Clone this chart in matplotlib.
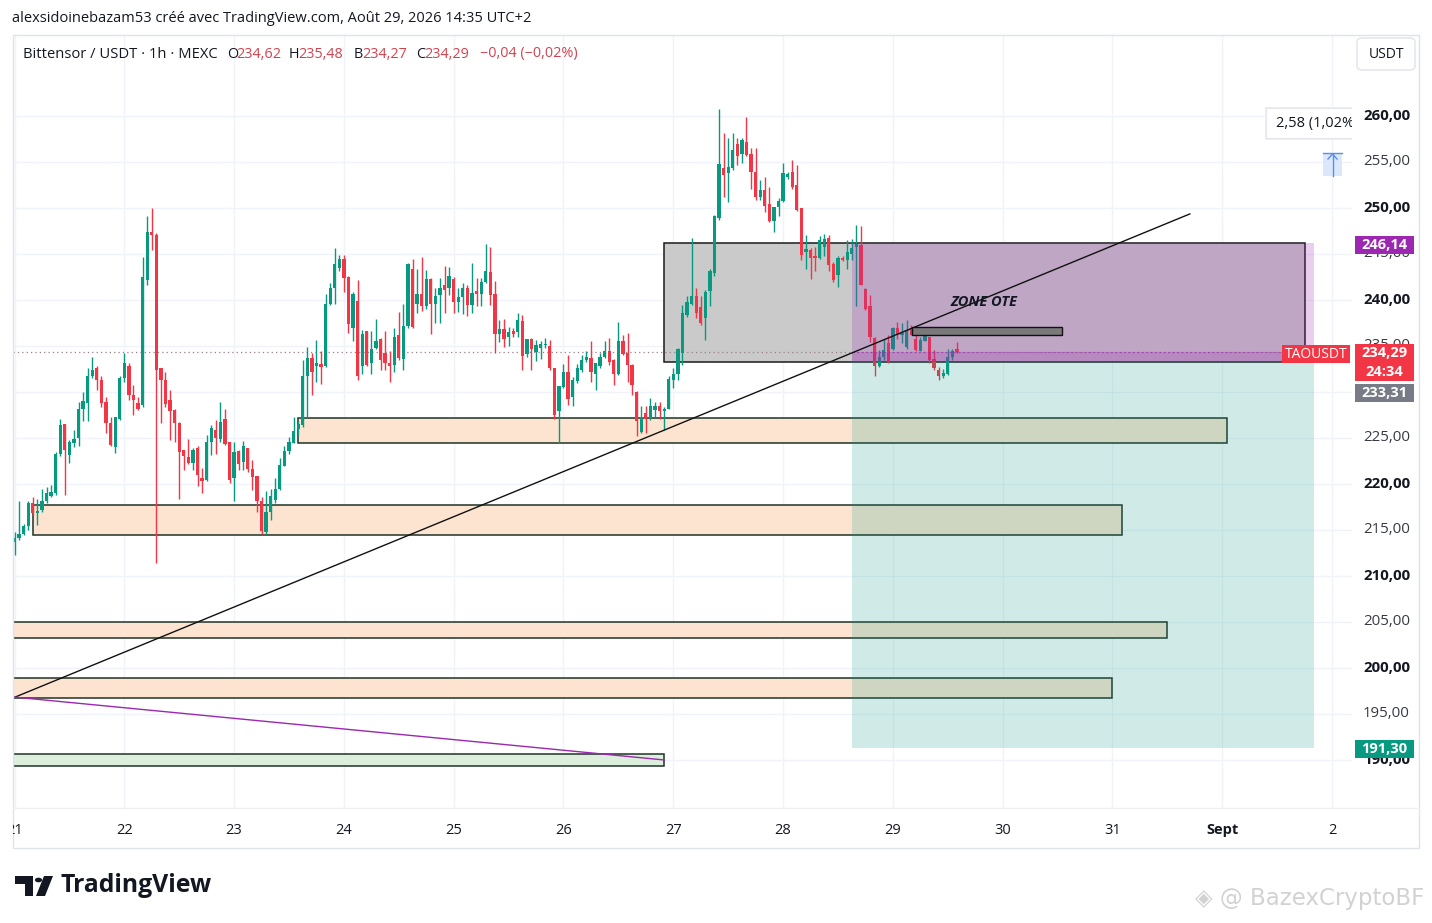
import numpy as np
import matplotlib.pyplot as plt
from matplotlib.patches import Rectangle, FancyBboxPatch, Polygon, Circle
from matplotlib.transforms import blended_transform_factory

# hourly candles from 21 Aug 00:00 (index = hour)
opens = [
    213.7, 214.1, 214.6, 215.4, 217.9, 216.8, 217.2, 218.1, 218.7, 219.0, 223.3, 226.5,
    223.2, 224.4, 225.0, 228.2, 228.8, 231.7, 232.6, 231.3, 228.9, 226.6, 224.0, 227.1,
    231.5, 232.8, 229.7, 228.8, 228.6, 242.2, 247.4, 247.1, 232.6, 231.3, 229.1, 228.0,
    226.6, 223.7, 222.9, 222.3, 223.9, 220.7, 220.4, 224.6, 225.9, 224.9, 227.1, 224.6,
    220.7, 223.6, 222.4, 223.9, 221.6, 220.9, 218.1, 214.8, 217.0, 218.3, 219.4, 222.0,
    223.6, 224.5, 226.0, 226.4, 231.7, 233.7, 232.8, 233.0, 232.8, 239.6, 241.3, 243.5,
    244.4, 242.5, 236.9, 239.9, 232.8, 236.6, 233.1, 234.8, 235.8, 234.2, 233.2, 232.9,
    236.2, 233.6, 237.2, 243.4, 239.6, 240.6, 239.3, 242.3, 239.6, 240.5, 241.6, 241.3,
    242.3, 239.8, 240.3, 241.3, 239.5, 241.0, 240.6, 242.0, 243.0, 240.6, 236.3, 236.8,
    236.0, 236.6, 236.5, 237.7, 234.1, 235.8, 234.3, 234.8, 235.1, 235.0, 232.6, 227.9,
    230.5, 232.2, 229.5, 231.2, 232.4, 233.5, 233.7, 232.0, 232.8, 233.8, 234.4, 233.5,
    231.9, 235.5, 234.2, 232.9, 230.0, 225.7, 227.7, 227.1, 228.0, 228.5, 227.9, 228.2,
    231.3, 231.9, 234.2, 238.4, 239.6, 240.4, 239.2, 238.0, 241.0, 242.9, 248.9, 254.3,
    253.8, 254.3, 257.0, 255.9, 257.2, 255.9, 253.9, 251.2, 251.9, 250.4, 248.6, 250.1,
    250.8, 253.4, 253.9, 252.5, 250.0, 245.2, 245.4, 244.8, 244.6, 245.8, 246.7, 243.9,
    242.7, 244.6, 244.3, 245.0, 245.8, 246.0, 241.2, 239.3, 235.9, 232.8, 233.8, 235.3,
    234.7, 236.9, 236.2, 234.9, 236.9, 235.8, 234.4, 235.5, 236.0, 233.6, 232.4, 231.7,
    232.0, 233.8, 234.62,
]
highs = [
    214.8, 218.1, 215.7, 218.1, 218.6, 218.4, 219.5, 219.7, 219.9, 223.5, 227.1, 226.5,
    224.8, 225.9, 228.9, 230.0, 232.6, 233.8, 232.8, 231.7, 229.5, 227.3, 227.3, 231.7,
    234.2, 233.1, 230.8, 229.5, 244.7, 249.1, 250.0, 247.3, 232.6, 232.2, 230.2, 228.2,
    226.7, 223.7, 224.9, 223.9, 224.1, 221.7, 225.3, 226.4, 227.0, 228.9, 228.2, 224.6,
    224.6, 223.7, 224.7, 223.9, 222.6, 220.9, 218.6, 219.2, 219.4, 220.6, 222.8, 224.1,
    225.1, 227.3, 226.8, 233.5, 234.9, 234.2, 235.7, 234.4, 240.7, 241.8, 245.6, 244.9,
    244.9, 242.6, 240.9, 242.2, 236.7, 236.6, 236.6, 237.9, 235.9, 236.6, 234.4, 236.9,
    238.7, 239.6, 244.0, 244.4, 243.4, 244.7, 243.3, 242.4, 241.3, 242.4, 243.7, 243.6,
    242.5, 241.3, 241.8, 241.6, 244.0, 242.4, 242.4, 246.1, 245.8, 242.1, 237.8, 237.9,
    237.1, 236.9, 238.6, 238.4, 235.8, 235.9, 235.7, 235.5, 235.9, 235.7, 232.6, 230.6,
    233.0, 234.0, 231.6, 233.0, 234.0, 234.4, 235.5, 233.2, 234.2, 235.5, 235.9, 233.6,
    237.6, 236.2, 236.4, 233.0, 230.1, 228.5, 228.5, 229.3, 228.9, 228.9, 228.4, 231.7,
    232.6, 234.8, 239.5, 240.4, 246.7, 241.3, 240.4, 241.1, 243.4, 249.2, 260.8, 258.1,
    257.6, 258.2, 257.6, 257.6, 259.9, 256.5, 256.5, 253.0, 253.4, 252.3, 250.1, 251.1,
    254.9, 253.95, 255.2, 254.7, 250.0, 247.1, 245.6, 245.8, 246.9, 247.2, 247.1, 244.1,
    244.8, 244.8, 246.5, 246.6, 248.1, 248.0, 241.3, 240.5, 236.0, 234.6, 235.8, 236.2,
    237.1, 237.6, 237.5, 237.8, 237.3, 236.2, 236.0, 236.4, 236.0, 234.6, 232.75, 232.5,
    234.7, 234.7, 235.48,
]
lows = [
    212.3, 213.9, 214.5, 215.0, 216.6, 215.5, 216.9, 217.9, 218.6, 218.8, 223.0, 218.8,
    222.3, 224.0, 224.1, 226.8, 226.8, 231.5, 230.2, 228.4, 225.5, 224.1, 223.4, 226.9,
    231.1, 229.1, 227.5, 228.0, 228.4, 241.6, 245.4, 211.4, 226.6, 228.4, 224.8, 224.6,
    218.4, 221.5, 222.2, 221.5, 219.8, 219.0, 220.3, 223.2, 223.3, 224.6, 224.2, 220.1,
    218.1, 221.5, 221.5, 221.3, 219.3, 217.0, 214.6, 214.6, 216.1, 217.9, 219.3, 221.9,
    223.3, 224.4, 225.3, 226.2, 227.3, 229.7, 231.1, 230.9, 232.7, 239.4, 239.6, 243.2,
    240.9, 236.4, 235.5, 231.3, 231.9, 232.8, 231.9, 234.7, 232.4, 232.4, 231.1, 232.2,
    233.5, 232.4, 237.0, 237.0, 238.6, 238.8, 239.0, 236.3, 237.5, 237.5, 238.6, 240.5,
    238.6, 238.7, 238.5, 238.3, 238.6, 239.3, 239.3, 241.8, 239.5, 234.2, 235.4, 234.9,
    235.0, 236.0, 236.0, 232.4, 233.8, 232.4, 233.4, 233.6, 234.8, 232.4, 227.1, 224.5,
    230.4, 228.6, 228.5, 231.0, 232.2, 233.3, 231.1, 230.2, 232.6, 233.7, 232.9, 230.8,
    231.8, 234.0, 231.1, 229.7, 225.2, 225.5, 225.5, 227.0, 227.3, 227.1, 225.9, 228.2,
    230.4, 231.3, 232.9, 238.2, 239.4, 238.0, 237.3, 235.7, 239.3, 242.6, 248.7, 251.2,
    250.7, 254.1, 254.7, 254.9, 255.6, 252.1, 250.9, 250.9, 249.6, 248.5, 247.4, 249.1,
    250.7, 253.2, 252.1, 249.7, 244.3, 243.4, 242.3, 243.1, 244.4, 244.8, 243.1, 242.0,
    241.4, 244.2, 243.4, 244.3, 239.3, 241.6, 238.9, 235.4, 231.7, 232.7, 233.5, 233.1,
    234.6, 235.8, 235.3, 234.7, 236.2, 234.4, 234.4, 235.5, 233.1, 232.4, 231.3, 231.5,
    231.8, 233.5, 234.27,
]
closes = [
    214.1, 214.6, 215.4, 217.9, 216.8, 217.1, 218.1, 219.0, 219.1, 223.3, 226.4, 223.7,
    224.6, 224.9, 228.2, 229.0, 231.7, 232.4, 231.3, 228.8, 226.6, 224.2, 227.3, 231.5,
    233.1, 229.7, 229.1, 228.1, 242.5, 247.4, 247.1, 232.4, 231.3, 228.7, 227.9, 226.6,
    223.5, 223.0, 222.3, 223.7, 221.0, 220.3, 224.6, 226.1, 225.0, 226.7, 224.3, 220.4,
    223.5, 222.2, 224.1, 221.6, 220.8, 218.1, 214.9, 217.0, 218.7, 219.5, 222.1, 223.6,
    224.6, 225.8, 226.5, 231.7, 233.7, 232.2, 233.2, 232.7, 239.6, 241.3, 243.9, 244.5,
    242.4, 237.4, 240.7, 231.7, 236.3, 232.9, 234.7, 235.5, 233.5, 233.2, 232.8, 236.0,
    233.7, 237.2, 243.9, 237.1, 240.6, 239.3, 242.3, 239.6, 240.4, 241.3, 241.1, 242.6,
    239.8, 240.3, 241.3, 239.4, 240.8, 240.6, 242.0, 243.2, 240.5, 236.3, 236.8, 235.8,
    236.5, 236.3, 237.8, 233.9, 235.8, 234.7, 235.1, 235.2, 235.2, 232.6, 227.5, 230.6,
    232.2, 229.2, 231.3, 232.6, 233.5, 233.8, 232.2, 233.1, 233.8, 234.4, 233.3, 231.9,
    235.5, 234.1, 232.9, 230.8, 226.8, 227.3, 227.1, 228.5, 228.5, 227.9, 228.1, 231.4,
    232.0, 234.7, 238.6, 239.8, 240.4, 238.6, 237.5, 240.9, 243.1, 249.1, 254.8, 253.6,
    254.5, 256.3, 255.7, 257.4, 255.8, 253.9, 251.2, 251.9, 250.2, 248.6, 250.1, 250.8,
    253.8, 253.7, 252.3, 249.8, 244.9, 245.5, 244.6, 244.6, 246.5, 246.6, 243.8, 242.2,
    244.6, 244.3, 245.2, 245.6, 246.1, 241.6, 239.0, 236.0, 232.8, 233.8, 234.6, 233.3,
    236.9, 236.2, 236.4, 236.7, 236.2, 234.6, 235.6, 236.2, 233.5, 232.6, 231.7, 232.1,
    233.8, 234.4, 234.29,
]

day_ticks = [0, 24, 48, 72, 96, 120, 144, 168, 192, 216, 240, 264, 288]
day_labels = ['21', '22', '23', '24', '25', '26', '27', '28', '29', '30', '31', 'Sept', '2']
price_ticks = [190, 195, 200, 205, 210, 215, 220, 225, 230, 235, 240, 245, 250, 255, 260]

# drawings: (start hour, end hour, low price, high price)
peach_zones = [(62.0, 265.0, 224.46, 227.17),
               (4.0, 242.1, 214.46, 217.72),
               (-0.4, 251.9, 203.26, 205.0),
               (-0.4, 239.9, 196.74, 198.91)]
green_zone = (-0.4, 142.0, 189.35, 190.65)
gray_zone = (142.0, 282.1, 233.31, 246.14)
ote_bar = (196.2, 229.0, 236.2, 237.07)
trend_up = ([-0.33, 256.9], [196.74, 249.35])
trend_down = ([-0.33, 142.0], [196.85, 190.0])
short_pos = dict(start=183.1, end=284.0, stop=246.14, entry=233.31, target=191.30)
last_price = 234.29

W, H = 1432, 923
UP, DOWN = '#089981', '#f23645'
plt.rcParams['font.family'] = ['Open Sans', 'DejaVu Sans']

fig = plt.figure(figsize=(W / 100, H / 100), dpi=100)
fig.patch.set_facecolor('white')


def fx(px):
    return px / W


def fy(py):
    return 1 - py / H


def frect(x0, y0, x1, y1, **kw):
    r = Rectangle((fx(x0), fy(y1)), (x1 - x0) / W, (y1 - y0) / H,
                  transform=fig.transFigure, **kw)
    fig.patches.append(r)
    return r


def fline(xs, ys, **kw):
    ln = plt.Line2D([fx(v) for v in xs], [fy(v) for v in ys],
                    transform=fig.transFigure, **kw)
    fig.lines.append(ln)
    return ln


L, R, T, B = 13, 1352, 35, 808
ax = fig.add_axes([fx(L), fy(B), (R - L) / W, (B - T) / H])
ax.set_xlim(-0.328, 292.35)
ax.set_ylim(184.78, 268.80)
for s in ax.spines.values():
    s.set_visible(False)
ax.set_xticks([])
ax.set_yticks([])

# grid
for d in day_ticks:
    ax.axvline(d, color='#f0f3fa', lw=1, zorder=0)
for p in price_ticks:
    ax.axhline(p, color='#f0f3fa', lw=1, zorder=0)

# zones under the candles
edge = '#1f3327'
for x0, x1, lo, hi in peach_zones:
    ax.add_patch(Rectangle((x0, lo), x1 - x0, hi - lo, facecolor='#fde4d0',
                           edgecolor=edge, lw=1.1, zorder=1))
x0, x1, lo, hi = green_zone
ax.add_patch(Rectangle((x0, lo), x1 - x0, hi - lo, facecolor='#dcefdc',
                       edgecolor=edge, lw=1.1, zorder=1))
x0, x1, lo, hi = gray_zone
ax.add_patch(Rectangle((x0, lo), x1 - x0, hi - lo, facecolor='#cacaca',
                       edgecolor='#1a1a1a', lw=1.1, zorder=1))

# last price line
ax.axhline(last_price, color='#9a7f8a', lw=0.9, ls=(0, (1, 2.5)), zorder=2)

# candles
o = np.array(opens)
h = np.array(highs)
lo_ = np.array(lows)
c = np.array(closes)
idx = np.arange(len(c))
col = np.where(c >= o, UP, DOWN)
ax.vlines(idx, lo_, h, colors=col, lw=1.0, zorder=3)
body = np.maximum(np.abs(c - o), 0.1)
ax.bar(idx, body, bottom=np.minimum(o, c), width=0.72, color=col, lw=0, zorder=3)

# short position tool
sp = short_pos
ax.add_patch(Rectangle((sp['start'], sp['entry']), sp['end'] - sp['start'],
                       sp['stop'] - sp['entry'], facecolor='#9c27b0', alpha=0.22,
                       lw=0, zorder=4))
ax.add_patch(Rectangle((sp['start'], sp['target']), sp['end'] - sp['start'],
                       sp['entry'] - sp['target'], facecolor='#089981', alpha=0.19,
                       lw=0, zorder=4))
ax.add_patch(Rectangle((sp['start'], sp['entry']), sp['end'] - sp['start'],
                       last_price - sp['entry'], facecolor='#9c27b0', alpha=0.22,
                       lw=0, zorder=4))
ax.plot([sp['start'], sp['end']], [last_price, last_price], color='#9c27b0',
        lw=0.8, ls=(0, (2, 2)), alpha=0.5, zorder=4)

# lines and small bar
ax.plot(*trend_up, color='#111111', lw=1.0, zorder=5)
ax.plot(*trend_down, color='#9c27b0', lw=1.0, zorder=5)
x0, x1, lo, hi = ote_bar
ax.add_patch(Rectangle((x0, lo), x1 - x0, hi - lo, facecolor='#7a7a7a',
                       edgecolor='#111111', lw=1.0, zorder=5))
ax.text(211.9, 239.78, 'ZONE OTE', fontsize=10.5, fontweight='bold', style='italic',
        color='#131722', ha='center', va='center', zorder=6)

# frame
frect(L, T, 1419, 848, fill=False, edgecolor='#e0e3eb', lw=1)
fline([L, 1419], [B, B], color='#eef0f4', lw=1)

# time axis labels (clipped to the pane)
clip_time = Rectangle((fx(L), 0), (R - L) / W, 1, transform=fig.transFigure)
tx = blended_transform_factory(ax.transData, fig.transFigure)
for d, lab in zip(day_ticks, day_labels):
    t = fig.text(d, fy(830), lab, transform=tx, ha='center', va='center', fontsize=10.5,
                 color='#131722', fontweight='bold' if lab == 'Sept' else 'normal')
    t.set_clip_path(clip_time)

# price axis labels
ty = blended_transform_factory(fig.transFigure, ax.transData)
for p in price_ticks:
    lab = f'{p:.2f}'.replace('.', ',')
    fig.text(fx(1363), p, lab, transform=ty, ha='left', va='center', fontsize=10.8,
             color='#131722' if p % 10 == 0 else '#363a45',
             fontweight='bold' if p % 10 == 0 else 'normal', zorder=2)


def tag(x0, x1, y0, y1, colr, lines, fs=10.5, bold=True):
    frect(x0, y0, x1, y1, facecolor=colr, edgecolor='none', zorder=5)
    n = len(lines)
    for k, s in enumerate(lines):
        yc = y0 + (y1 - y0) * (k + 0.5) / n
        fig.text(fx((x0 + x1) / 2), fy(yc), s, ha='center', va='center', fontsize=fs,
                 color='white', fontweight='bold' if bold else 'normal', zorder=6)


tag(1355, 1414, 236, 254, '#9c27b0', ['246,14'])
tag(1355, 1414, 344, 381, '#f23645', ['234,29', '24:34'])
tag(1355, 1414, 384, 402, '#787b86', ['233,31'])
tag(1355, 1414, 740, 758, '#089981', ['191,30'])
tag(1282, 1350, 345, 363, '#f23645', ['TAOUSDT'], fs=10, bold=False)

# currency box
usd = FancyBboxPatch((fx(1357), fy(70)), 58 / W, 32 / H,
                     boxstyle='round,pad=0,rounding_size=0.004',
                     transform=fig.transFigure, facecolor='white', edgecolor='#e0e3eb', lw=1)
fig.patches.append(usd)
fig.text(fx(1386), fy(54), 'USDT', ha='center', va='center', fontsize=10, color='#131722')

# measure label + arrow icon
clip_pane = Rectangle((fx(L), fy(B)), (R - L) / W, (B - T) / H, transform=fig.transFigure)
shadow = frect(1265, 107, 1362, 140, facecolor='#eceef2', edgecolor='none', zorder=3)
shadow.set_clip_path(clip_pane)
box = frect(1266, 108, 1362, 138, facecolor='white', edgecolor='#e6e8ee', lw=0.8, zorder=3)
box.set_clip_path(clip_pane)
t = fig.text(fx(1276), fy(123), '2,58 (1,02%)', ha='left', va='center', fontsize=10.5,
             color='#131722', zorder=4)
t.set_clip_path(clip_pane)
frect(1323, 153, 1342, 176, facecolor='#dbe7fb', edgecolor='none', zorder=3)
fline([1323, 1342], [153, 153], color='#5b8def', lw=1, zorder=4)
fline([1332.5, 1332.5], [176, 154], color='#5b8def', lw=1, zorder=4)
fline([1328, 1332.5, 1337], [159, 154, 159], color='#5b8def', lw=1, zorder=4)

# header texts
fig.text(fx(12), fy(19), 'alexsidoinebazam53 créé avec TradingView.com, Août 29, 2026 14:35 UTC+2',
         ha='left', va='center', fontsize=10.5, color='#131722')
fig.text(fx(23), fy(54), 'Bittensor / USDT · 1h · MEXC', ha='left', va='center',
         fontsize=10.6, color='#131722')
red_txt = '#d2424e'
for xl, letter, xv, val in [(227, 'O', 236, '234,62'), (289, 'H', 298, '235,48'),
                            (354, 'B', 362, '234,27'), (416, 'C', 424, '234,29')]:
    fig.text(fx(xl), fy(54), letter, ha='left', va='center', fontsize=10.4, color='#131722')
    fig.text(fx(xv), fy(54), val, ha='left', va='center', fontsize=10.4, color=red_txt)
fig.text(fx(480), fy(54), '−0,04 (−0,02%)', ha='left', va='center', fontsize=10.4,
         color=red_txt)

# TradingView logo
logo = '#131722'
fig.patches.append(Polygon([(fx(15), fy(876)), (fx(33), fy(876)), (fx(33), fy(896)),
                            (fx(25), fy(896)), (fx(25), fy(884)), (fx(15), fy(884))],
                           closed=True, transform=fig.transFigure, facecolor=logo))
fig.patches.append(Circle((fx(38.5), fy(880)), 3.6 / W, transform=fig.transFigure,
                          facecolor=logo))
fig.patches.append(Polygon([(fx(44), fy(876)), (fx(53), fy(876)), (fx(45), fy(896)),
                            (fx(36), fy(896))], closed=True, transform=fig.transFigure,
                           facecolor=logo))
fig.text(fx(61), fy(886), 'TradingView', ha='left', va='center', fontsize=17.8,
         fontweight='bold', color=logo)

# watermark
fig.text(fx(1424), fy(899), '◈ @ BazexCryptoBF', ha='right', va='center', fontsize=16.5,
         color='#d2d2d2', family=['DejaVu Sans'])

fig.savefig('out.png', dpi=100)
